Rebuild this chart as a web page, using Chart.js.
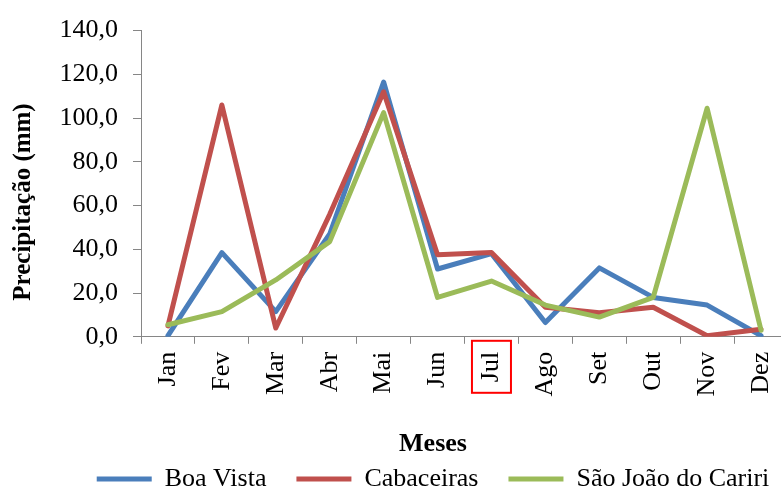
<!DOCTYPE html>
<html lang="pt">
<head>
<meta charset="UTF-8">
<title>Precipitação mensal</title>
<style>
  html, body { margin: 0; padding: 0; background: #fff; overflow: hidden; }
  .wrap { width: 866px; height: 491px; }
</style>
</head>
<body>
<div class="wrap"><canvas id="chuva" width="866" height="491"></canvas></div>
<script src="https://cdn.jsdelivr.net/npm/chart.js@4"></script>
<script>
// precipitação mensal (mm) por município
const meses = ['Jan', 'Fev', 'Mar', 'Abr', 'Mai', 'Jun', 'Jul', 'Ago', 'Set', 'Out', 'Nov', 'Dez'];
const boaVista = [0.5, 38.5, 11.5, 47, 116.5, 31, 38, 6.5, 31.5, 18, 14.5, 0.5];
const cabaceiras = [5, 106, 4, 56, 112, 37.5, 38.5, 13.5, 11, 13.5, 0.5, 3.5];
const saoJoao = [5.5, 11.5, 26, 43.5, 102.5, 18, 25.5, 14.5, 9, 18, 104.5, 3];
const yTicks = [0, 20, 40, 60, 80, 100, 120, 140];

const serif = 'Liberation Serif, Times New Roman, serif';
const eixo = '#868686';

// título do eixo Y desenhado à mão para ficar na mesma altura do original
const tituloY = {
  id: 'tituloY',
  afterDraw(chart) {
    const ctx = chart.ctx;
    ctx.save();
    ctx.translate(24, 202);
    ctx.rotate(-Math.PI / 2);
    ctx.font = 'bold 25px ' + serif;
    ctx.fillStyle = '#000';
    ctx.textAlign = 'center';
    ctx.textBaseline = 'middle';
    ctx.fillText('Precipitação (mm)', 0, 0);
    ctx.restore();
  }
};

// destaque em volta do rótulo de julho
const destaqueJul = {
  id: 'destaqueJul',
  afterDraw(chart) {
    const x = chart.scales.x;
    const cx = x.getPixelForValue(meses.indexOf('Jul'));
    const ctx = chart.ctx;
    ctx.save();
    ctx.strokeStyle = '#ff0000';
    ctx.lineWidth = 2;
    ctx.strokeRect(cx - 19.5, x.top + 4, 39, 52);
    ctx.restore();
  }
};

function serie(label, data, cor, ordem) {
  return {
    label, data,
    borderColor: cor,
    backgroundColor: cor,
    borderWidth: 5,
    borderCapStyle: 'round',
    borderJoinStyle: 'round',
    pointRadius: 0,
    tension: 0,
    order: ordem
  };
}

new Chart(document.getElementById('chuva'), {
  type: 'line',
  data: {
    labels: meses,
    datasets: [
      serie('Boa Vista', boaVista, '#4a7ebb', 3),
      serie('Cabaceiras', cabaceiras, '#c0504d', 2),
      serie('São João do Cariri', saoJoao, '#9bbb59', 1)
    ]
  },
  options: {
    responsive: false,
    animation: false,
    layout: { padding: { top: 24, bottom: -11 } },
    plugins: {
      tooltip: { enabled: false },
      legend: {
        position: 'bottom',
        title: {
          display: true,
          text: 'Meses',
          color: '#000',
          font: { family: serif, size: 26, weight: 'bold' },
          padding: { top: 0, bottom: -26 }
        },
        labels: {
          usePointStyle: true,
          pointStyle: 'line',
          pointStyleWidth: 55,
          padding: 30,
          color: '#000',
          font: { family: serif, size: 26 },
          sort: (a, b) => a.datasetIndex - b.datasetIndex
        }
      }
    },
    scales: {
      x: {
        offset: true,
        afterFit: s => { s.height = 94; },
        grid: { offset: true, drawOnChartArea: false, tickLength: 7, color: eixo },
        border: { color: eixo },
        ticks: {
          minRotation: 90, maxRotation: 90, padding: 8,
          color: '#000', font: { family: serif, size: 26 }
        }
      },
      y: {
        min: yTicks[0],
        max: yTicks[yTicks.length - 1],
        afterBuildTicks: s => { s.ticks = yTicks.map(v => ({ value: v })); },
        afterFit: s => { s.width = 141; },
        grid: { drawOnChartArea: false, tickLength: 8, color: eixo },
        border: { color: eixo },
        ticks: {
          padding: 15,
          color: '#000',
          font: { family: serif, size: 26 },
          callback: v => v.toFixed(1).replace('.', ',')
        }
      },
      margem: {
        position: 'right',
        grid: { display: false },
        border: { display: false },
        ticks: { display: false },
        afterFit: s => { s.width = 78; }
      }
    }
  },
  plugins: [tituloY, destaqueJul]
});
</script>
</body>
</html>
